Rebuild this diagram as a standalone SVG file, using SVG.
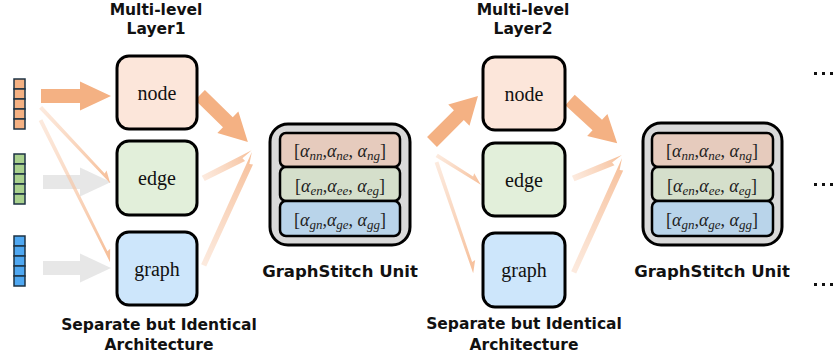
<svg xmlns="http://www.w3.org/2000/svg" width="834" height="358" viewBox="0 0 834 358">
<style>
.lbl{font-family:"DejaVu Sans",sans-serif;font-weight:bold;font-size:15.5px;fill:#111;text-anchor:middle}
.unitlbl{font-family:"DejaVu Sans",sans-serif;font-weight:bold;font-size:16.5px;fill:#111;text-anchor:middle}
.box{stroke:#000;stroke-width:3}
.boxtxt{font-family:"Liberation Serif",serif;font-size:20px;fill:#111;text-anchor:middle}
.math{font-family:"Liberation Serif",serif;font-size:18px;fill:#222;text-anchor:middle}
.math .a{font-style:italic}
.math .s{font-style:italic;font-size:13px}
.row{stroke:#000;stroke-width:2.5}
.big{fill:#F4B183}
.gray{fill:#E3E3E3;opacity:0.85}
.thin{fill:url(#fade)}
.cell{stroke:#1E3344;stroke-width:1.5}
.dot{fill:#111}
</style>
<defs>
<linearGradient id="fade" x1="0" y1="0" x2="1" y2="0">
<stop offset="0" stop-color="#F8CBAD" stop-opacity="0.4"/>
<stop offset="1" stop-color="#F6BE98" stop-opacity="1"/>
</linearGradient>
</defs>

<!-- titles -->
<g id="title1"><text class="lbl" x="156" y="15">Multi-level</text><text class="lbl" x="156" y="34">Layer1</text></g>
<g id="title2"><text class="lbl" x="523" y="15">Multi-level</text><text class="lbl" x="523" y="34">Layer2</text></g>

<!-- input vectors -->
<g id="vec-node">
<rect class="cell" x="14" y="79" width="11" height="10" fill="#F4B183"/>
<rect class="cell" x="14" y="89" width="11" height="10" fill="#F4B183"/>
<rect class="cell" x="14" y="99" width="11" height="10" fill="#F4B183"/>
<rect class="cell" x="14" y="109" width="11" height="10" fill="#F4B183"/>
<rect class="cell" x="14" y="119" width="11" height="10" fill="#F4B183"/>
</g>
<g id="vec-edge">
<rect class="cell" x="14" y="154" width="11" height="10" fill="#A9D18E"/>
<rect class="cell" x="14" y="164" width="11" height="10" fill="#A9D18E"/>
<rect class="cell" x="14" y="174" width="11" height="10" fill="#A9D18E"/>
<rect class="cell" x="14" y="184" width="11" height="10" fill="#A9D18E"/>
<rect class="cell" x="14" y="194" width="11" height="10" fill="#A9D18E"/>
</g>
<g id="vec-graph">
<rect class="cell" x="14" y="236" width="11" height="10" fill="#4FA8F2"/>
<rect class="cell" x="14" y="246" width="11" height="10" fill="#4FA8F2"/>
<rect class="cell" x="14" y="256" width="11" height="10" fill="#4FA8F2"/>
<rect class="cell" x="14" y="266" width="11" height="10" fill="#4FA8F2"/>
<rect class="cell" x="14" y="276" width="11" height="10" fill="#4FA8F2"/>
</g>

<!-- connectors -->
<g id="connectors">
<path class="gray" transform="translate(43,182)" d="M0,-7 H37 V-14.5 L68,0 L37,14.5 V7 H0 Z"/>
<path class="gray" transform="translate(43,268)" d="M0,-7 H37 V-14.5 L68,0 L37,14.5 V7 H0 Z"/>
<path class="big" transform="translate(41,96)" d="M0,-7 H39 V-14.5 L70,0 L39,14.5 V7 H0 Z"/>
<path class="thin" transform="translate(41,107) rotate(47.8)" d="M0,-1.5 L92,-2.5 L91,-6 L103,0 L0,2.5 Z"/>
<path class="thin" transform="translate(41,120) rotate(64.1)" d="M0,-1.5 L147,-2.5 L146,-6 L158,0 L0,2.5 Z"/>
<path class="big" transform="translate(200,95) rotate(44.4)" d="M0,-7 H39 V-15 L67,0 L39,15 V7 H0 Z"/>
<path class="thin" transform="translate(203,178) rotate(-29.7)" d="M0,-2.5 L56,0 L44,2.5 L45,6 L0,3.5 Z"/>
<path class="thin" transform="translate(203,265) rotate(-66.6)" d="M0,-2 L123,0 L111,2.5 L112,6 L0,3.5 Z"/>
<path class="big" transform="translate(432,142) rotate(-45)" d="M0,-7 H38 V-15 L65,0 L38,15 V7 H0 Z"/>
<path class="thin" transform="translate(437,155) rotate(34.3)" d="M0,-1.5 L42,-2.5 L41,-6 L53,0 L0,2.5 Z"/>
<path class="thin" transform="translate(437,162) rotate(72)" d="M0,-1.5 L106,-2.5 L105,-6 L117,0 L0,2.5 Z"/>
<path class="big" transform="translate(570,100) rotate(42.5)" d="M0,-7 H37 V-15 L64,0 L37,15 V7 H0 Z"/>
<path class="thin" transform="translate(573,178) rotate(-25.1)" d="M0,-2.5 L54,0 L42,2.5 L43,6 L0,3.5 Z"/>
<path class="thin" transform="translate(573,272) rotate(-66.7)" d="M0,-2 L124,0 L112,2.5 L113,6 L0,3.5 Z"/>
</g>

<!-- layer 1 -->
<g id="l1-node"><rect class="box" x="117" y="56" width="80" height="73" rx="12" fill="#FCE6DA"/><text class="boxtxt" x="157" y="100">node</text></g>
<g id="l1-edge"><rect class="box" x="117" y="141" width="80" height="74" rx="12" fill="#E2EFDA"/><text class="boxtxt" x="157" y="185">edge</text></g>
<g id="l1-graph"><rect class="box" x="117" y="232" width="80" height="73" rx="12" fill="#CDE6FB"/><text class="boxtxt" x="157" y="276">graph</text></g>
<g id="l1-caption"><text class="lbl" x="159" y="330">Separate but Identical</text><text class="lbl" x="159" y="350">Architecture</text></g>

<!-- unit 1 -->
<g id="unit1">
<rect class="box" x="270" y="124" width="140" height="121" rx="18" fill="#D9D9D9"/>
<rect class="row" x="280" y="133" width="120" height="34" rx="6" fill="#E6CBBD"/>
<rect class="row" x="280" y="167" width="120" height="34" rx="6" fill="#D5DFCB"/>
<rect class="row" x="280" y="201" width="120" height="35" rx="6" fill="#B9D4EA"/>
<text class="math" x="340" y="157">[<tspan class="a">α</tspan><tspan class="s" dy="3">nn</tspan><tspan dy="-3">,</tspan><tspan class="a">α</tspan><tspan class="s" dy="3">ne</tspan><tspan dy="-3">, </tspan><tspan class="a">α</tspan><tspan class="s" dy="3">ng</tspan><tspan dy="-3">]</tspan></text>
<text class="math" x="340" y="192">[<tspan class="a">α</tspan><tspan class="s" dy="3">en</tspan><tspan dy="-3">,</tspan><tspan class="a">α</tspan><tspan class="s" dy="3">ee</tspan><tspan dy="-3">, </tspan><tspan class="a">α</tspan><tspan class="s" dy="3">eg</tspan><tspan dy="-3">]</tspan></text>
<text class="math" x="340" y="226">[<tspan class="a">α</tspan><tspan class="s" dy="3">gn</tspan><tspan dy="-3">,</tspan><tspan class="a">α</tspan><tspan class="s" dy="3">ge</tspan><tspan dy="-3">, </tspan><tspan class="a">α</tspan><tspan class="s" dy="3">gg</tspan><tspan dy="-3">]</tspan></text>
<text class="unitlbl" x="340" y="277">GraphStitch Unit</text>
</g>

<!-- layer 2 -->
<g id="l2-node"><rect class="box" x="483" y="57" width="82" height="73" rx="12" fill="#FCE6DA"/><text class="boxtxt" x="524" y="101">node</text></g>
<g id="l2-edge"><rect class="box" x="483" y="143" width="82" height="73" rx="12" fill="#E2EFDA"/><text class="boxtxt" x="524" y="187">edge</text></g>
<g id="l2-graph"><rect class="box" x="483" y="233" width="82" height="74" rx="12" fill="#CDE6FB"/><text class="boxtxt" x="524" y="277">graph</text></g>
<g id="l2-caption"><text class="lbl" x="524" y="329">Separate but Identical</text><text class="lbl" x="524" y="350">Architecture</text></g>

<!-- unit 2 -->
<g id="unit2">
<rect class="box" x="643" y="123" width="139" height="122" rx="18" fill="#D9D9D9"/>
<rect class="row" x="652" y="133" width="121" height="34" rx="6" fill="#E6CBBD"/>
<rect class="row" x="652" y="167" width="121" height="34" rx="6" fill="#D5DFCB"/>
<rect class="row" x="652" y="201" width="121" height="35" rx="6" fill="#B9D4EA"/>
<text class="math" x="712" y="157">[<tspan class="a">α</tspan><tspan class="s" dy="3">nn</tspan><tspan dy="-3">,</tspan><tspan class="a">α</tspan><tspan class="s" dy="3">ne</tspan><tspan dy="-3">, </tspan><tspan class="a">α</tspan><tspan class="s" dy="3">ng</tspan><tspan dy="-3">]</tspan></text>
<text class="math" x="712" y="192">[<tspan class="a">α</tspan><tspan class="s" dy="3">en</tspan><tspan dy="-3">,</tspan><tspan class="a">α</tspan><tspan class="s" dy="3">ee</tspan><tspan dy="-3">, </tspan><tspan class="a">α</tspan><tspan class="s" dy="3">eg</tspan><tspan dy="-3">]</tspan></text>
<text class="math" x="712" y="226">[<tspan class="a">α</tspan><tspan class="s" dy="3">gn</tspan><tspan dy="-3">,</tspan><tspan class="a">α</tspan><tspan class="s" dy="3">ge</tspan><tspan dy="-3">, </tspan><tspan class="a">α</tspan><tspan class="s" dy="3">gg</tspan><tspan dy="-3">]</tspan></text>
<text class="unitlbl" x="712" y="277">GraphStitch Unit</text>
</g>

<!-- continuation dots -->
<g id="dots">
<rect class="dot" x="814" y="72" width="3" height="3"/><rect class="dot" x="822" y="72" width="3" height="3"/><rect class="dot" x="830" y="72" width="3" height="3"/>
<rect class="dot" x="814" y="183" width="3" height="3"/><rect class="dot" x="822" y="183" width="3" height="3"/><rect class="dot" x="830" y="183" width="3" height="3"/>
<rect class="dot" x="814" y="283" width="3" height="3"/><rect class="dot" x="822" y="283" width="3" height="3"/><rect class="dot" x="830" y="283" width="3" height="3"/>
</g>
</svg>
